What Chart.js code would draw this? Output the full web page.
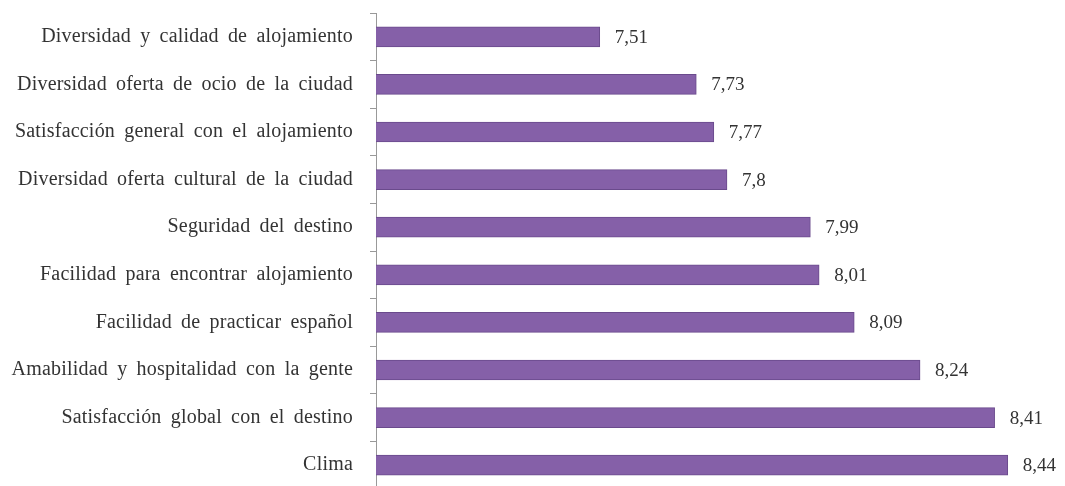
<!DOCTYPE html>
<html>
<head>
<meta charset="utf-8">
<script src="https://cdn.jsdelivr.net/npm/chart.js@4.4.1/dist/chart.umd.min.js"></script>
<style>
  html, body { margin: 0; padding: 0; background: #fff; overflow: hidden; }
  #chart { position: absolute; left: 0; top: 0; }
</style>
</head>
<body>
<canvas id="chart" width="1085" height="494"></canvas>
<script>
// Survey items and average scores
const categories = [
    'Diversidad y calidad de alojamiento',
    'Diversidad oferta de ocio de la ciudad',
    'Satisfacción general con el alojamiento',
    'Diversidad oferta cultural de la ciudad',
    'Seguridad del destino',
    'Facilidad para encontrar alojamiento',
    'Facilidad de practicar español',
    'Amabilidad y hospitalidad con la gente',
    'Satisfacción global con el destino',
    'Clima'
];
const scores = [7.51, 7.73, 7.77, 7.8, 7.99, 8.01, 8.09, 8.24, 8.41, 8.44];
const scoreLabels = ['7,51', '7,73', '7,77', '7,8', '7,99', '8,01', '8,09', '8,24', '8,41', '8,44'];

const AXIS_MIN = 7;
const AXIS_MAX = 8.6;
const FONT = "'Liberation Serif', 'DejaVu Serif', serif";

// Slightly wider spacing for the category names
const textSpacing = {
    id: 'textSpacing',
    beforeDraw(chart) {
        chart.ctx.letterSpacing = '0.2px';
        chart.ctx.wordSpacing = '4px';
    }
};

// Value label at the end of every bar
const valueLabels = {
    id: 'valueLabels',
    afterDatasetsDraw(chart) {
        const ctx = chart.ctx;
        const meta = chart.getDatasetMeta(0);
        ctx.save();
        ctx.letterSpacing = '0px';
        ctx.wordSpacing = '0px';
        ctx.font = '19px ' + FONT;
        ctx.fillStyle = '#333';
        ctx.textAlign = 'left';
        ctx.textBaseline = 'middle';
        meta.data.forEach((bar, i) => {
            ctx.fillText(scoreLabels[i], bar.x + 15, bar.y + 1);
        });
        ctx.restore();
    }
};

const ctx = document.getElementById('chart').getContext('2d');
new Chart(ctx, {
    type: 'bar',
    data: {
        labels: categories,
        datasets: [{
            data: scores,
            backgroundColor: '#8560A8',
            borderColor: '#6A4A8C',
            borderWidth: 1,
            barThickness: 20
        }]
    },
    options: {
        responsive: false,
        indexAxis: 'y',
        animation: false,
        layout: {
            padding: { top: 13, bottom: 5, right: 7, left: 0 }
        },
        scales: {
            x: {
                display: false,
                min: AXIS_MIN,
                max: AXIS_MAX
            },
            y: {
                afterFit(scale) {
                    scale.width = 376;
                    scale.paddingTop = 0;
                    scale.paddingBottom = 0;
                },
                border: { display: true, color: '#999', width: 1 },
                grid: {
                    offset: true,
                    drawOnChartArea: false,
                    drawTicks: true,
                    tickLength: 6,
                    color: '#999'
                },
                ticks: {
                    padding: 17,
                    color: '#333',
                    font: { family: FONT, size: 20 }
                }
            }
        },
        plugins: {
            legend: { display: false },
            tooltip: { enabled: false }
        }
    },
    plugins: [textSpacing, valueLabels]
});
</script>
</body>
</html>
